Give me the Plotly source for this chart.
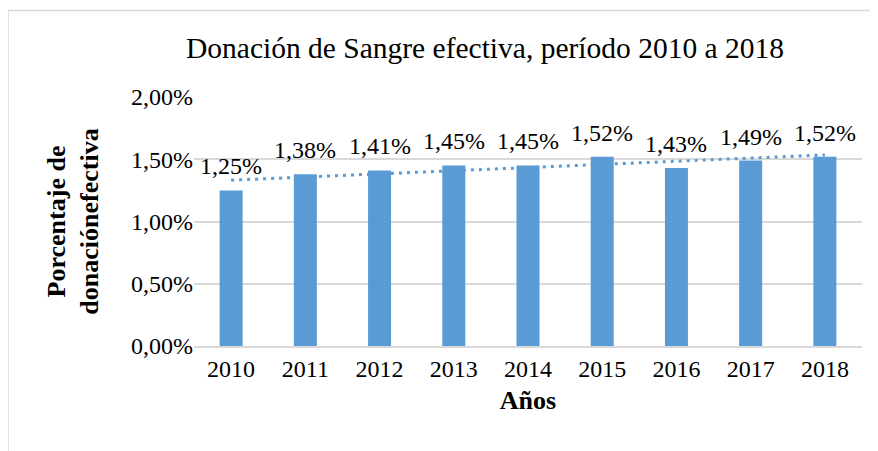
import numpy as np
import plotly.graph_objects as go

years = ["2010", "2011", "2012", "2013", "2014", "2015", "2016", "2017", "2018"]
values_pct = [1.25, 1.38, 1.41, 1.45, 1.45, 1.52, 1.43, 1.49, 1.52]
labels = ["1,25%", "1,38%", "1,41%", "1,45%", "1,45%", "1,52%", "1,43%", "1,49%", "1,52%"]
y_ticks = [0.0, 0.005, 0.010, 0.015, 0.020]
y_tick_text = ["0,00%", "0,50%", "1,00%", "1,50%", "2,00%"]

values = [v / 100 for v in values_pct]
xpos = list(range(len(years)))

# Linear trend line (as Excel's linear trendline)
slope, intercept = np.polyfit(np.array(xpos, dtype=float), np.array(values), 1)
trend = [float(slope * i + intercept) for i in xpos]

# page body has an 8px margin; figure coordinates = screen coordinates - 8
OFF = 8
W, H = 878, 451
L, R, T, B = 194 - OFF, W - (862 - OFF), 97 - OFF, H - (346 - OFF)
pw, ph = W - L - R, H - T - B

def px_x(sx):
    return (sx - OFF - L) / pw

def px_y(sy):
    return (H - B - (sy - OFF)) / ph

SERIF = "Liberation Serif"
BLUE = "#5B9BD5"

fig = go.Figure()
fig.add_trace(go.Bar(x=xpos, y=values, marker=dict(color=BLUE, line=dict(width=0)),
                     width=0.31, showlegend=False, hoverinfo="skip"))
fig.add_trace(go.Scatter(x=xpos, y=trend, mode="lines",
                         line=dict(color=BLUE, width=3, dash="3px,5px"),
                         showlegend=False, hoverinfo="skip"))

for i, v, lab in zip(xpos, values, labels):
    fig.add_annotation(x=i, y=v, xref="x", yref="y", text=lab, showarrow=False,
                       yanchor="bottom", yshift=9,
                       font=dict(family=SERIF, size=24, color="#000000"))

# chart frame (left and top border)
fig.add_shape(type="line", xref="paper", yref="paper", x0=px_x(8), x1=px_x(900),
              y0=px_y(10.5), y1=px_y(10.5), line=dict(color="#D9D9D9", width=1.5))
fig.add_shape(type="line", xref="paper", yref="paper", x0=px_x(8), x1=px_x(8),
              y0=px_y(10.5), y1=px_y(470), line=dict(color="#D9D9D9", width=1.5))

fig.update_layout(
    width=W, height=H,
    margin=dict(l=L, r=R, t=T, b=B),
    paper_bgcolor="white", plot_bgcolor="white",
    font=dict(family=SERIF, size=24, color="#000000"),
    title=dict(text="Donación de Sangre efectiva, período 2010 a 2018",
               x=px_x(485), xref="paper", xanchor="center",
               y=1 - (48 - OFF) / H, yref="container", yanchor="middle",
               font=dict(family=SERIF, size=29.5, color="#000000")),
    xaxis=dict(range=[-0.5, len(years) - 0.5], tickvals=xpos, ticktext=years,
               showgrid=False, zeroline=False, showline=True, linecolor="#D9D9D9", linewidth=1.5,
               ticks="", tickfont=dict(family=SERIF, size=24),
               title=dict(text="<b>Años</b>", font=dict(family=SERIF, size=26), standoff=10)),
    yaxis=dict(range=[0, 0.02], tickvals=y_ticks, ticktext=y_tick_text,
               showgrid=True, gridcolor="#D9D9D9", gridwidth=1.5,
               zeroline=False, showline=False, ticks="",
               tickfont=dict(family=SERIF, size=24),
               title=dict(text="<b>Porcentaje de<br>donaciónefectiva</b>",
                          font=dict(family=SERIF, size=26), standoff=24)),
)

fig.write_html("out.html")
